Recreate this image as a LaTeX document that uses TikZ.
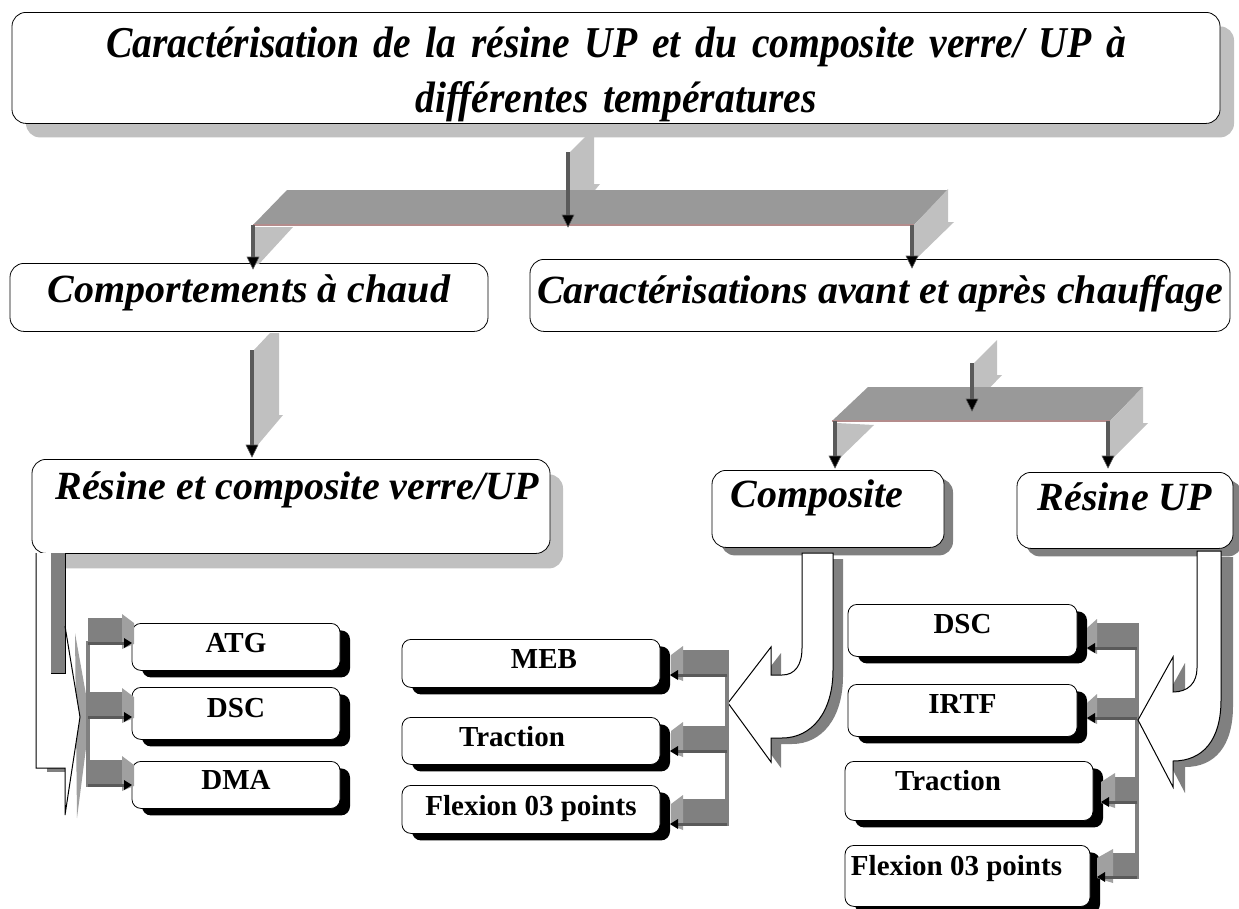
\documentclass[tikz,border=0pt]{standalone}
\usepackage{fontspec}
\setmainfont{Liberation Serif}
\newfontfamily\titlefont[FakeStretch=0.9]{Liberation Serif}
\usetikzlibrary{shadows}
\definecolor{panelgray}{HTML}{C0C0C0}
\definecolor{bargray}{HTML}{999999}
\definecolor{stemgray}{HTML}{5A5A5A}
\definecolor{blockgray}{HTML}{808080}
\definecolor{headgray}{HTML}{A0A0A0}
\definecolor{redline}{HTML}{B48C8C}
\definecolor{shadowlight}{HTML}{C0C0C0}
\definecolor{shadowmid}{HTML}{808080}
\tikzset{
  ibox/.style={draw=black, line width=0.8pt, fill=white, rounded corners=14pt,
    inner xsep=5pt, inner ysep=0pt, anchor=north,
    font=\fontsize{40}{52}\selectfont\bfseries\itshape},
  sbox/.style={draw=black, line width=0.8pt, fill=white, rounded corners=9pt,
    inner xsep=2pt, inner ysep=0pt, anchor=north,
    font=\fontsize{29}{34}\selectfont\bfseries,
    drop shadow={shadow xshift=10pt, shadow yshift=-7pt, fill=black, opacity=1}},
  lshadow/.style={drop shadow={shadow xshift=#1pt, shadow yshift=-#1pt, fill=shadowlight, opacity=1}},
  mshadow/.style={drop shadow={shadow xshift=9pt, shadow yshift=-8pt, fill=shadowmid, opacity=1}},
  panel/.style={fill=panelgray},
  bar/.style={fill=bargray},
  stemline/.style={draw=stemgray, line width=4pt},
  rline/.style={draw=redline, line width=1.6pt},
  block/.style={fill=blockgray},
  head/.style={fill=headgray},
  hline/.style={draw=stemgray, line width=3pt},
  vline/.style={draw=blockgray, line width=3.5pt},
  outline/.style={draw=black, line width=1pt},
  cshadow/.style={fill=shadowmid},
}
\newcommand{\droptip}[2]{\fill[black, draw=stemgray, line width=0.6pt] (#1-6,#2-12) -- (#1+6,#2-12) -- (#1,#2) -- cycle;}
\begin{document}
\begin{tikzpicture}[x=1pt,y=-1pt]
\useasboundingbox (0,0) rectangle (1239,908);
\fill[white] (0,0) rectangle (1239,908);

% ---------- boxes ----------
\node[ibox, text width=1198pt, align=center, text height=45pt, text depth=66pt, lshadow=14,
  font=\titlefont\fontsize{44}{55}\selectfont\bfseries\itshape]
  (title) at (616,12) {Caractérisation de la résine UP et du composite verre/ UP à\\ différentes températures};
\node[ibox, minimum width=478pt, text height=39pt, text depth=29pt] (comp) at (249,263) {Comportements à chaud};
\node[ibox, minimum width=700pt, text height=44pt, text depth=28pt] (carac) at (880,259) {Caractérisations avant et après chauffage};
\node[ibox, minimum width=518pt, text height=40pt, text depth=54pt,
  drop shadow={shadow xshift=13pt, shadow yshift=-15pt, fill=shadowlight, opacity=1}]
  (rescomp) at (291,459) {Résine et composite verre/UP\hspace*{-12pt}};
\node[ibox, minimum width=232pt, text height=37pt, text depth=40pt, mshadow] (composite) at (828,470) {\hspace*{-22pt}Composite};
\node[ibox, minimum width=216pt, text height=38pt, text depth=38pt, mshadow] (resup) at (1125,472) {Résine UP};

\node[sbox, minimum width=208pt, text height=29pt, text depth=18pt] (atg) at (236,623) {ATG};
\node[sbox, minimum width=208pt, text height=30pt, text depth=22pt] (dscl) at (236,687) {DSC};
\node[sbox, minimum width=208pt, text height=28pt, text depth=19pt] (dma) at (236,761) {DMA};

\node[sbox, minimum width=258pt, text height=29pt, text depth=19pt] (meb) at (531,639) {MEB\hspace*{-26pt}};
\node[sbox, minimum width=258pt, text height=29pt, text depth=18pt] (tracm) at (531,717) {\hspace*{-38pt}Traction};
\node[sbox, minimum width=258pt, text height=30pt, text depth=18pt] (flexm) at (531,785) {Flexion 03 points};

\node[sbox, minimum width=229pt, text height=29pt, text depth=23pt] (dscr) at (962.5,604) {DSC};
\node[sbox, minimum width=229pt, text height=29pt, text depth=23pt] (irtf) at (962.5,684) {IRTF};
\node[sbox, minimum width=248pt, text height=29pt, text depth=30pt] (tracr) at (969,761) {\hspace*{-42pt}Traction};
\node[sbox, minimum width=245pt, text height=30pt, text depth=31pt] (flexr) at (967.5,845) {\hspace*{-22pt}Flexion 03 points};

% ---------- junction title -> comp / carac ----------
\fill[panel] (570,152) -- (594,128) -- (594,184) -- (600,184) -- (572,218) -- (570,218) -- cycle;
\fill[bar] (253,225) -- (287,190) -- (948,190) -- (914,225) -- cycle;
\draw[rline] (253,225) -- (914,225);
\draw[stemline] (568,152) -- (568,216);
\droptip{568}{227}
\fill[panel] (255,227) -- (293,227) -- (259,264) -- (255,264) -- cycle;
\draw[stemline] (253,225) -- (253,258);
\droptip{253}{269}
\fill[panel] (914,225) -- (948,189) -- (948,222) -- (954,222) -- (918,257) -- (914,257) -- cycle;
\draw[stemline] (912,225) -- (912,256);
\droptip{912}{268}

% ---------- comp -> rescomp ----------
\fill[panel] (254,350) -- (270,333) -- (279,333) -- (279,415) -- (283,415) -- (256,447) -- (254,447) -- cycle;
\draw[stemline] (252,350) -- (252,446);
\droptip{252}{457}

% ---------- junction carac -> composite / resup ----------
\fill[panel] (974,363) -- (997,340) -- (997,375) -- (1002,375) -- (975,403) -- (974,403) -- cycle;
\fill[bar] (832,421) -- (868,387) -- (1143,387) -- (1110,421) -- cycle;
\draw[rline] (832,421) -- (1110,421);
\draw[stemline] (972,363) -- (972,400);
\droptip{972}{411}
\fill[panel] (837,423) -- (874,425) -- (840,458) -- (837,458) -- cycle;
\draw[stemline] (835,421) -- (835,456);
\droptip{835}{468}
\fill[panel] (1110,421) -- (1143,387) -- (1143,423) -- (1148,423) -- (1113,458) -- (1110,458) -- cycle;
\draw[stemline] (1108,421) -- (1108,456);
\droptip{1108}{468}

% ---------- bent arrow from rescomp ----------
\fill[head] (75,633) -- (90,717) -- (77,818) -- cycle;
\fill[white] (36,553) -- (36,768) -- (65,768) -- (65,815) -- (80,717) -- (65,626) -- (65,553) -- cycle;
\fill[block] (51,553) rectangle (65,673);
\draw[outline] (65,553) -- (65,673) -- (51,673);
\fill[block] (47,768) rectangle (65,772);
\draw[outline] (36,553) -- (36,768) -- (65,768) -- (65,815) -- (80,717) -- (65,626);

% left branches
\draw[vline] (88,641) -- (88,787);
\foreach \y in {643,717,785}{
  \fill[block] (88,\y-25) rectangle (122,\y);
  \fill[head] (122,\y-29) -- (134,\y-20) -- (134,\y+1) -- (122,\y+6) -- cycle;
  \draw[hline] (88,\y) -- (125,\y);
  \fill[black] (124,\y-5) -- (132,\y) -- (124,\y+5) -- cycle;
}

% ---------- curved arrow from composite ----------
\fill[cshadow, shift={(10,6)}] (802,553) -- (802,648) .. controls (802,665) and (795,675) .. (782,675) -- (771,675) -- (771,647) -- (728,703) -- (771,762) -- (771,738) -- (782,738) .. controls (812,738) and (833,712) .. (833,670) -- (833,553) -- cycle;
\filldraw[fill=white, outline] (802,553) -- (802,648) .. controls (802,665) and (795,675) .. (782,675) -- (771,675) -- (771,647) -- (728,703) -- (771,762) -- (771,738) -- (782,738) .. controls (812,738) and (833,712) .. (833,670) -- (833,553) -- cycle;

% middle branches
\draw[vline] (727,650) -- (727,826);
\foreach \y in {675,751,824}{
  \fill[block] (683,\y-25) rectangle (725,\y);
  \fill[head] (683,\y-29) -- (671,\y-20) -- (671,\y+1) -- (683,\y+6) -- cycle;
  \draw[hline] (727,\y) -- (676,\y);
  \fill[black] (678,\y-5) -- (670,\y) -- (678,\y+5) -- cycle;
}

% ---------- right branches ----------
\draw[vline] (1137,623) -- (1137,879);
\foreach \y/\hx/\bx/\bt in {648/1087/1097/623, 718/1087/1097/698, 802/1101/1115/777, 877/1097/1113/853}{
  \fill[block] (\bx,\bt) rectangle (1137,\y);
  \fill[head] (\bx,\bt-4) -- (\hx,\bt+5) -- (\hx,\y+1) -- (\bx,\y+6) -- cycle;
  \draw[hline] (1137,\y) -- (\hx+5,\y);
  \fill[black] (\hx+8,\y-5) -- (\hx,\y) -- (\hx+8,\y+5) -- cycle;
}

% ---------- curved arrow from resup ----------
\fill[cshadow, shift={(12,6)}] (1197,551) -- (1197,668) .. controls (1197,683) and (1188,692) .. (1173,692) -- (1173,657) -- (1138,720) -- (1173,787) -- (1173,761) .. controls (1203,761) and (1221,740) .. (1221,700) -- (1221,551) -- cycle;
\filldraw[fill=white, outline] (1197,551) -- (1197,668) .. controls (1197,683) and (1188,692) .. (1173,692) -- (1173,657) -- (1138,720) -- (1173,787) -- (1173,761) .. controls (1203,761) and (1221,740) .. (1221,700) -- (1221,551) -- cycle;

\end{tikzpicture}
\end{document}
